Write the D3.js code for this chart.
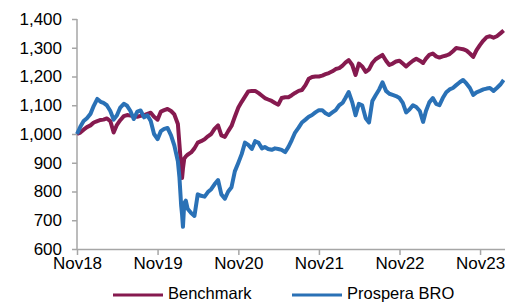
<!DOCTYPE html>
<html>
<head>
<meta charset="utf-8">
<script src="https://cdn.jsdelivr.net/npm/d3@7"></script>
<style>
  body { margin: 0; background: #fff; }
  svg { display: block; font-family: "Liberation Sans", Arial, sans-serif; }
</style>
</head>
<body>
<svg id="chart" width="505" height="303"></svg>
<script>
// semi-monthly readings, extra points round the Feb/Mar 2020 drop
const dates = [
  "2018-11-01","2018-11-16","2018-12-01","2018-12-16","2019-01-01","2019-01-16","2019-02-01","2019-02-16",
  "2019-03-01","2019-03-16","2019-04-01","2019-04-16","2019-05-01","2019-05-16","2019-06-01","2019-06-16",
  "2019-07-01","2019-07-16","2019-08-01","2019-08-16","2019-09-01","2019-09-16","2019-10-01","2019-10-16",
  "2019-11-01","2019-11-16","2019-12-01","2019-12-16","2020-01-01","2020-01-16","2020-02-01","2020-02-08",
  "2020-02-12","2020-02-16","2020-02-20","2020-02-24","2020-03-01","2020-03-08","2020-03-16","2020-04-01",
  "2020-04-16","2020-05-01","2020-05-16","2020-06-01","2020-06-16","2020-07-01","2020-07-16","2020-08-01",
  "2020-08-16","2020-09-01","2020-09-16","2020-10-01","2020-10-16","2020-11-01","2020-11-16","2020-12-01",
  "2020-12-16","2021-01-01","2021-01-16","2021-02-01","2021-02-16","2021-03-01","2021-03-16","2021-04-01",
  "2021-04-16","2021-05-01","2021-05-16","2021-06-01","2021-06-16","2021-07-01","2021-07-16","2021-08-01",
  "2021-08-16","2021-09-01","2021-09-16","2021-10-01","2021-10-16","2021-11-01","2021-11-16","2021-12-01",
  "2021-12-16","2022-01-01","2022-01-16","2022-02-01","2022-02-16","2022-03-01","2022-03-16","2022-04-01",
  "2022-04-16","2022-05-01","2022-05-16","2022-06-01","2022-06-16","2022-07-01","2022-07-16","2022-08-01",
  "2022-08-16","2022-09-01","2022-09-16","2022-10-01","2022-10-16","2022-11-01","2022-11-16","2022-12-01",
  "2022-12-16","2023-01-01","2023-01-16","2023-02-01","2023-02-16","2023-03-01","2023-03-16","2023-04-01",
  "2023-04-16","2023-05-01","2023-05-16","2023-06-01","2023-06-16","2023-07-01","2023-07-16","2023-08-01",
  "2023-08-16","2023-09-01","2023-09-16","2023-10-01","2023-10-16","2023-11-01","2023-11-16","2023-12-01",
  "2023-12-16","2024-01-01","2024-01-16","2024-02-01","2024-02-16"
];

const benchmark = [
  1000,1005,1015,1024,1030,1040,1045,1049, 1050,1054,1045,1005,1032,1048,1062,1066,
  1064,1062,1060,1063,1066,1070,1074,1060, 1050,1078,1083,1087,1080,1068,1035,965,
  925,885,847,880,915,922,928,936, 950,970,975,982,992,1000,1018,1030,
  995,990,1010,1028,1060,1092,1112,1130, 1148,1150,1150,1142,1133,1125,1120,1115,
  1108,1102,1125,1128,1128,1135,1143,1150, 1153,1170,1192,1198,1200,1200,1203,1208,
  1212,1218,1226,1229,1238,1248,1257,1240, 1205,1245,1235,1216,1225,1247,1260,1268,
  1275,1255,1240,1245,1252,1255,1245,1235, 1245,1255,1262,1255,1247,1262,1275,1280,
  1270,1266,1270,1273,1278,1288,1299,1297, 1295,1290,1280,1268,1292,1310,1325,1337,
  1340,1335,1340,1350,1360
];

const prospera = [
  1000,1025,1045,1055,1070,1098,1122,1112, 1108,1100,1080,1050,1065,1092,1105,1098,
  1080,1052,1078,1082,1058,1065,1045,1000, 982,1010,1018,1021,995,960,905,850,
  800,750,720,677,760,768,740,725, 715,790,785,782,798,808,825,840,
  790,775,800,815,870,900,930,970, 962,948,975,969,950,955,948,945,
  950,948,945,937,955,979,1005,1022, 1040,1050,1060,1066,1075,1083,1083,1072,
  1066,1075,1083,1100,1108,1125,1146,1110, 1065,1105,1100,1055,1040,1115,1135,1155,
  1180,1150,1140,1136,1132,1125,1108,1075, 1085,1100,1094,1080,1042,1080,1110,1125,
  1105,1100,1125,1145,1155,1160,1170,1180, 1188,1175,1160,1136,1145,1150,1155,1158,
  1160,1150,1160,1172,1188
];

const xTicks = ["2018-11-01","2019-11-01","2020-11-01","2021-11-01","2022-11-01","2023-11-01"];
const yTicks = [600,700,800,900,1000,1100,1200,1300,1400];
const seriesNames = ["Benchmark","Prospera BRO"];
const seriesColors = ["#861a4f","#2a71b6"];

const parse = d3.utcParse("%Y-%m-%d");
const fmtX = d3.utcFormat("%b%y");
const fmtY = d3.format(",");

const svg = d3.select("#chart");

const x = d3.scaleUtc()
  .domain([parse("2018-11-01"), parse("2024-02-22")])
  .range([77, 505]);

const y = d3.scaleLinear()
  .domain([600, 1400])
  .range([249, 19]);

const xAxis = d3.axisBottom(x)
  .tickValues(xTicks.map(parse))
  .tickFormat(fmtX)
  .tickSize(6)
  .tickSizeOuter(0)
  .tickPadding(2);

const yAxis = d3.axisLeft(y)
  .tickValues(yTicks)
  .tickFormat(fmtY)
  .tickSize(5)
  .tickSizeOuter(0)
  .tickPadding(10);

const gx = svg.append("g").attr("transform", "translate(0,249)").call(xAxis);
const gy = svg.append("g").attr("transform", "translate(77,0)").call(yAxis);

[gx, gy].forEach((g) => {
  g.selectAll("path, line").attr("stroke", "#a6a6a6").attr("stroke-width", 1.5);
  g.selectAll("text").attr("fill", "#000").style("font-size", "17px");
});
gy.select(".domain").attr("d", "M0,19V249");

const series = [benchmark, prospera];
const line = d3.line()
  .x((d, i) => x(parse(dates[i])))
  .y((d) => y(d));

svg.selectAll(".series")
  .data(series)
  .join("path")
  .attr("class", "series")
  .attr("fill", "none")
  .attr("stroke", (d, i) => seriesColors[i])
  .attr("stroke-width", 4)
  .attr("stroke-linejoin", "round")
  .attr("d", line);

// legend
const legendX = [113, 292];
const legend = svg.selectAll(".legend")
  .data(seriesNames)
  .join("g")
  .attr("class", "legend")
  .attr("transform", (d, i) => `translate(${legendX[i]},295)`);

legend.append("line")
  .attr("x1", 0).attr("x2", 50)
  .attr("stroke", (d, i) => seriesColors[i])
  .attr("stroke-width", 3);

legend.append("text")
  .attr("x", 55)
  .attr("y", 4)
  .style("font-size", "16.5px")
  .text((d) => d);
</script>
</body>
</html>
